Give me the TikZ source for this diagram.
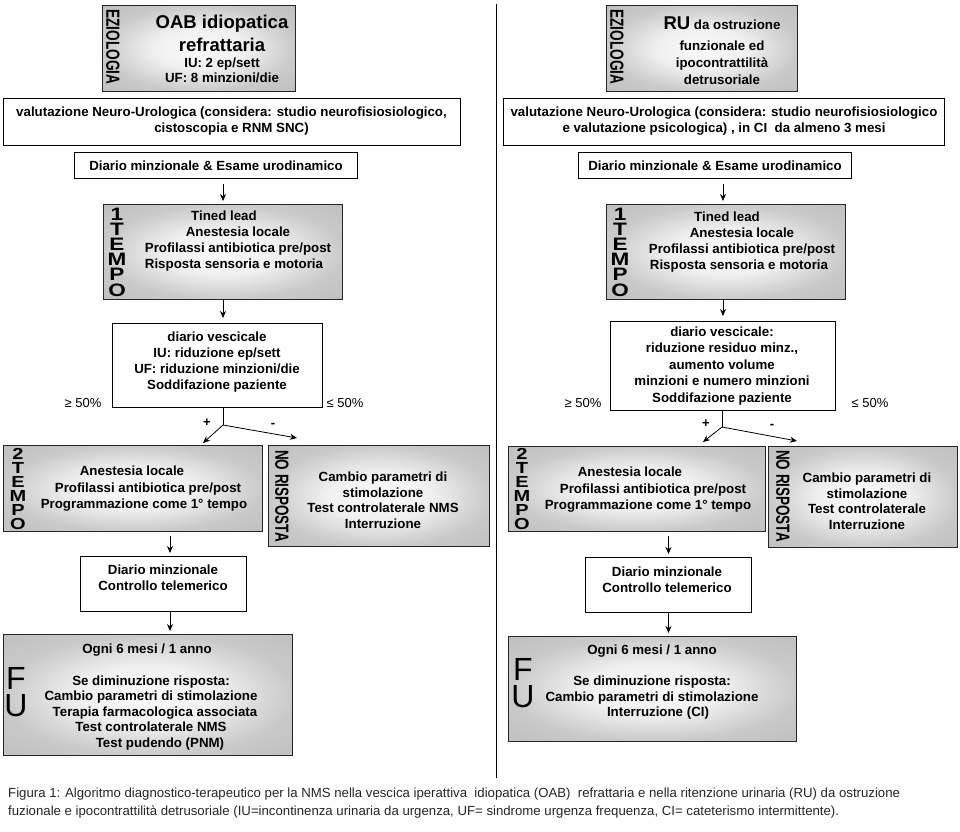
\documentclass[tikz,border=0pt]{standalone}
\usepackage{fontspec}
\setmainfont{Liberation Sans}
\usepackage{graphicx}
\usetikzlibrary{arrows.meta,calc}
\pgfdeclareradialshading{boxshade}{\pgfpoint{0bp}{0bp}}{color(0bp)=(black!2); color(12bp)=(black!6); color(25bp)=(black!21); color(36bp)=(black!25); color(50bp)=(black!25)}
\tikzset{
  wbox/.style={draw=black, line width=1pt, fill=white, inner sep=0pt},
  gbox/.style={draw=black!85, line width=1pt, shading=boxshade, inner sep=0pt},
  btxt/.style={font=\fontsize{13.3}{16}\selectfont\bfseries, align=center, inner sep=0pt},
  vlabA/.style={font=\fontsize{18}{15.2}\selectfont\bfseries, align=center, inner sep=0pt},
  vlabB/.style={font=\fontsize{16}{14}\selectfont\bfseries, align=center, inner sep=0pt},
  rlab/.style={rotate=-90, inner sep=0pt, font=\fontsize{19}{19}\selectfont\bfseries},
  fulab/.style={font=\fontsize{32}{27}\selectfont, align=center, inner sep=0pt},
  arr/.style={-{Stealth[length=7pt,width=6pt]}, line width=0.8pt},
  plain/.style={line width=0.8pt},
  pct/.style={font=\fontsize{13}{15}\selectfont, inner sep=0pt},
  sgn/.style={font=\fontsize{13}{14}\selectfont\bfseries, inner sep=0pt},
}
\newcommand\mybox[6]{\node[#2, anchor=north west, minimum width={(#5)-(#3)}, minimum height={(#6)-(#4)}] (#1) at (#3,#4) {};}
\newcommand\wide[1]{\scalebox{1.25}[1]{#1}}
\begin{document}
\begin{tikzpicture}[x=1pt,y=-1pt]
\useasboundingbox (0,0) rectangle (960,831);
\fill[white] (0,0) rectangle (960,831);
% ---------- left column boxes
\mybox{etL}{gbox}{102}{5}{295}{91}
\mybox{valL}{wbox}{3}{98}{460}{145}
\mybox{diaL}{wbox}{74}{152}{357}{178}
\mybox{t1L}{gbox}{103}{204}{342}{299}
\mybox{dvL}{wbox}{112}{323}{322}{407}
\mybox{t2L}{gbox}{3}{445}{262}{531}
\mybox{nrL}{gbox}{268}{445}{489}{546}
\mybox{dcL}{wbox}{80}{556}{246}{611}
\mybox{fuL}{gbox}{3}{634}{292}{755}
% ---------- right column boxes
\mybox{etR}{gbox}{606}{5}{797}{91}
\mybox{valR}{wbox}{503}{98}{944}{145}
\mybox{diaR}{wbox}{578}{152}{851}{178}
\mybox{t1R}{gbox}{606}{204}{845}{299}
\mybox{dvR}{wbox}{610}{321}{835}{410}
\mybox{t2R}{gbox}{508}{446}{765}{531}
\mybox{nrR}{gbox}{768}{446}{957}{547}
\mybox{dcR}{wbox}{585}{557}{751}{612}
\mybox{fuR}{gbox}{508}{636}{796}{741}
% divider
\draw[line width=1pt] (496,4) -- (496,778);
% ---------- left texts
\node[rlab] (etLlab) at (113,47) {\scalebox{0.72}[1]{EZIOLOGIA}};
\node[font=\fontsize{18.5}{23}\selectfont\bfseries, align=center, inner sep=0pt] (etLt1) at (222,33) {OAB idiopatica\\refrattaria};
\node[btxt, font=\fontsize{13.3}{15}\selectfont\bfseries] (etLt2) at (222,70) {IU: 2 ep/sett\\UF: 8 minzioni/die};
\node[btxt] (valLt) at (231.5,121.5) {valutazione Neuro-Urologica (considera: studio neurofisiosiologico,\\cistoscopia e RNM SNC)};
\node[btxt] (diaLt) at (diaL.center) {Diario minzionale \& Esame urodinamico};
\node[vlabA] (t1Llab) at (117,252) {\wide{1}\\\wide{T}\\\wide{E}\\\wide{M}\\\wide{P}\\\wide{O}};
\node[btxt] (t1Lt) at (238,241) {Tined lead\hspace*{28pt}\\Anestesia locale\hspace*{24pt}\\Profilassi antibiotica pre/post\\Risposta sensoria e motoria\hspace*{8pt}};
\node[btxt] (dvLt) at (217,362) {diario vescicale\\IU: riduzione ep/sett\\UF: riduzione minzioni/die\\Soddifazione paziente};
\node[pct] (geL) at (83,403) {≥ 50\%};
\node[pct] (leL) at (345,403) {≤ 50\%};
\node[sgn] (plL) at (207,423) {+};
\node[sgn] (miL) at (273,425) {-};
\node[vlabB] (t2Llab) at (18,489) {\wide{2}\\\wide{T}\\\wide{E}\\\wide{M}\\\wide{P}\\\wide{O}};
\node[btxt, font=\fontsize{13.3}{16.5}\selectfont\bfseries] (t2Lt) at (144,489) {Anestesia locale\hspace*{24pt}\\\hspace*{8pt}Profilassi antibiotica pre/post\\Programmazione come 1° tempo};
\node[rlab] (nrLlab) at (282,496) {\scalebox{0.71}[1]{NO RISPOSTA}};
\node[btxt, font=\fontsize{13.3}{15.5}\selectfont\bfseries] (nrLt) at (383,500) {Cambio parametri di\\stimolazione\\Test controlaterale NMS\\Interruzione};
\node[btxt] (dcLt) at (163,578) {Diario minzionale\\Controllo telemerico};
\node[fulab] (fuLlab) at (16,692) {F\\U};
\node[btxt, font=\fontsize{13.3}{15.5}\selectfont\bfseries] (fuLt) at (151,697) {Ogni 6 mesi / 1 anno\hspace*{8pt}\\[16pt]Se diminuzione risposta:\hspace*{6pt}\\Cambio parametri di stimolazione\hspace*{8pt}\\\hspace*{8pt}Terapia farmacologica associata\\Test controlaterale NMS\\\hspace*{18pt}Test pudendo (PNM)};
% ---------- right texts
\node[rlab] (etRlab) at (617,47) {\scalebox{0.72}[1]{EZIOLOGIA}};
\node[btxt, font=\fontsize{13.3}{17}\selectfont\bfseries] (etRt) at (722,51) {{\fontsize{18.5}{17}\selectfont RU} da ostruzione\\[4pt]funzionale ed\\ipocontrattilità\\detrusoriale};
\node[btxt] (valRt) at (724,121.5) {valutazione Neuro-Urologica (considera: studio neurofisiosiologico\\e valutazione psicologica) , in CI\ \ da almeno 3 mesi};
\node[btxt] (diaRt) at (diaR.center) {Diario minzionale \& Esame urodinamico};
\node[vlabA] (t1Rlab) at (620,252) {\wide{1}\\\wide{T}\\\wide{E}\\\wide{M}\\\wide{P}\\\wide{O}};
\node[btxt] (t1Rt) at (742,242) {Tined lead\hspace*{30pt}\\Anestesia locale\hspace*{24pt}\\Profilassi antibiotica pre/post\\Risposta sensoria e motoria\hspace*{6pt}};
\node[btxt, font=\fontsize{13.3}{16.5}\selectfont\bfseries] (dvRt) at (722,366) {diario vescicale:\\riduzione residuo minz.,\\aumento volume\\minzioni e numero minzioni\\Soddifazione paziente};
\node[pct] (geR) at (583,403) {≥ 50\%};
\node[pct] (leR) at (870,403) {≤ 50\%};
\node[sgn] (plR) at (706,424) {+};
\node[sgn] (miR) at (772,426) {-};
\node[vlabB] (t2Rlab) at (522,489) {\wide{2}\\\wide{T}\\\wide{E}\\\wide{M}\\\wide{P}\\\wide{O}};
\node[btxt, font=\fontsize{13.3}{16.5}\selectfont\bfseries] (t2Rt) at (648,490) {Anestesia locale\hspace*{36pt}\\\hspace*{10pt}Profilassi antibiotica pre/post\\Programmazione come 1° tempo};
\node[rlab] (nrRlab) at (783,496) {\scalebox{0.71}[1]{NO RISPOSTA}};
\node[btxt, font=\fontsize{13.3}{15.5}\selectfont\bfseries] (nrRt) at (867,501) {Cambio parametri di\\stimolazione\\Test controlaterale\\Interruzione};
\node[btxt] (dcRt) at (667,580) {Diario minzionale\\Controllo telemerico};
\node[fulab] (fuRlab) at (523,683) {F\\U};
\node[btxt, font=\fontsize{13.3}{15.5}\selectfont\bfseries] (fuRt) at (652,682) {Ogni 6 mesi / 1 anno\\[16pt]Se diminuzione risposta:\\Cambio parametri di stimolazione\\\hspace*{12pt}Interruzione (CI)};
% ---------- connectors left
\draw[arr, shorten <=5pt, shorten >=3pt] (diaL.south -| t1L.north) -- (t1L.north);
\draw[arr, shorten >=5pt] (t1L.south) -- (t1L.south |- dvL.north);
\coordinate (spL) at (223,425);
\coordinate (pEndL) at (203,443);
\coordinate (mEndL) at (297,438);
\draw[plain] (spL |- dvL.south) -- (spL);
\draw[arr] (spL) -- (pEndL);
\draw[arr] (spL) -- (mEndL);
\coordinate (axL) at (170,0);
\draw[arr, shorten <=4pt, shorten >=3pt] (axL |- t2L.south) -- (axL |- dcL.north);
\draw[arr, shorten >=3pt] (axL |- dcL.south) -- (axL |- fuL.north);
% ---------- connectors right
\draw[arr, shorten <=5pt, shorten >=3pt] (diaR.south -| dvR.north) -- (t1R.north -| dvR.north);
\draw[arr, shorten >=5pt] (t1R.south -| dvR.north) -- (dvR.north);
\coordinate (spR) at (722,427);
\coordinate (pEndR) at (703,442);
\coordinate (mEndR) at (797,441);
\draw[plain] (spR |- dvR.south) -- (spR);
\draw[arr] (spR) -- (pEndR);
\draw[arr] (spR) -- (mEndR);
\draw[arr, shorten <=4pt, shorten >=3pt] (t2R.south -| dcR.north) -- (dcR.north);
\draw[arr, shorten >=3pt] (dcR.south) -- (dcR.south |- fuR.north);
% ---------- caption
\node[anchor=west, align=left, inner sep=0pt, font=\fontsize{13.2}{18}\selectfont, text=black!85] (cap) at (8,803) {Figura 1: Algoritmo diagnostico-terapeutico per la NMS nella vescica iperattiva\ \ idiopatica (OAB)\ \ refrattaria e nella ritenzione urinaria (RU) da ostruzione\\fuzionale e ipocontrattilità detrusoriale (IU=incontinenza urinaria da urgenza, UF= sindrome urgenza frequenza, CI= cateterismo intermittente).};
\end{tikzpicture}
\end{document}
